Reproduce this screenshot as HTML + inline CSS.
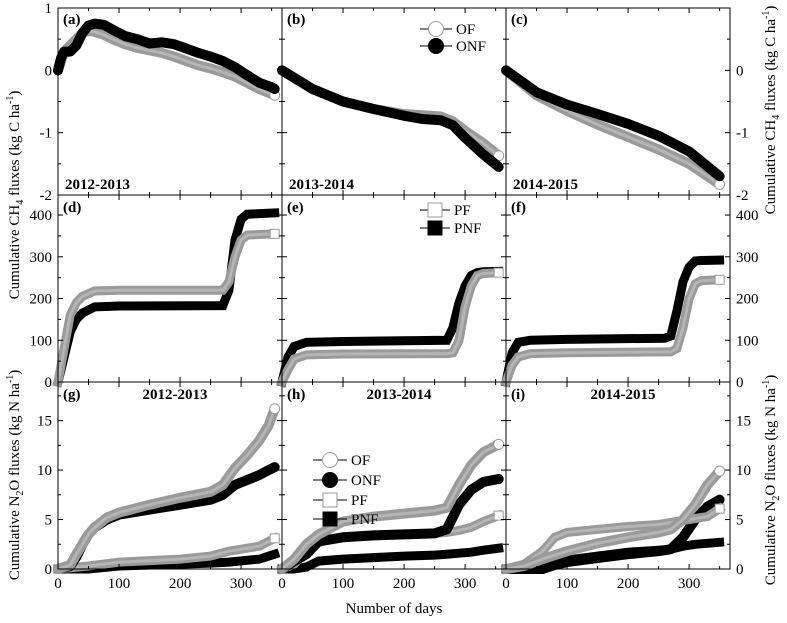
<!DOCTYPE html>
<html><head><meta charset="utf-8"><style>
html,body{margin:0;padding:0;background:#fff}
svg{display:block;font-family:"Liberation Serif","Times New Roman",serif}
svg text{font-family:"Liberation Serif","Times New Roman",serif}
</style></head><body>
<svg id="fig" width="787" height="623" viewBox="0 0 787 623"></svg>
<script>
const daysA=[0,5,10,20,30,40,50,60,75,90,110,130,150,170,190,210,230,250,270,290,310,330,350,355];
const onfA=[0,0.2,0.3,0.3,0.4,0.6,0.72,0.75,0.73,0.65,0.55,0.5,0.43,0.45,0.42,0.35,0.28,0.22,0.15,0.05,-0.08,-0.2,-0.27,-0.3];
const ofA=[0,0.15,0.3,0.4,0.5,0.6,0.63,0.62,0.57,0.5,0.42,0.36,0.32,0.28,0.22,0.15,0.08,0.03,-0.03,-0.1,-0.2,-0.3,-0.38,-0.4];
const daysB=[0,50,100,150,200,230,260,280,300,330,355];
const ofB=[0,-0.3,-0.5,-0.62,-0.7,-0.72,-0.74,-0.82,-0.97,-1.17,-1.37];
const onfB=[0,-0.3,-0.5,-0.62,-0.73,-0.78,-0.8,-0.88,-1.08,-1.35,-1.55];
const daysC=[0,50,100,150,200,250,300,350];
const ofC=[0,-0.4,-0.65,-0.87,-1.07,-1.27,-1.5,-1.83];
const onfC=[0,-0.35,-0.55,-0.7,-0.86,-1.05,-1.3,-1.7];
const daysD=[0,10,20,30,40,60,100,270,280,290,300,310,355];
const pfD=[0,80,160,190,205,218,220,220,240,300,340,352,355];
const pnfD=[0,60,120,150,165,180,182,183,220,340,390,402,405];
const daysE=[0,10,20,40,100,270,280,290,300,310,320,330,355];
const pfE=[0,30,55,65,67,68,70,100,180,230,255,260,262];
const pnfE=[0,60,85,95,97,100,130,190,230,255,262,264,265];
const daysF=[0,10,20,40,100,260,270,280,290,300,310,320,350];
const pfF=[0,40,60,68,70,72,72,80,130,200,235,243,245];
const pnfF=[0,70,95,100,102,105,110,170,240,275,290,291,292];
const daysG=[0,20,30,40,50,60,80,100,150,200,250,270,290,310,330,345,355];
const ofG=[0,0.4,1.5,2.5,3.5,4.2,5.2,5.7,6.5,7.2,7.8,8.5,10.2,11.5,13,14.5,16.2];
const onfG=[0,0.3,1.2,2.5,3.5,4.2,5,5.5,6,6.5,7,7.5,8.5,9,9.5,10,10.3];
const daysG2=[0,50,100,200,250,280,330,355];
const pfG=[0,0.3,0.7,1,1.3,1.8,2.3,3.1];
const pnfG=[0,0,0.3,0.5,0.6,0.7,1,1.5];
const daysH=[0,20,40,60,100,150,200,250,270,290,310,330,355];
const ofH=[0,1,2.5,3.5,4.8,5.3,5.6,5.9,6.2,8.5,10.5,11.8,12.6];
const onfH=[0,0.8,1.5,2.8,3.2,3.4,3.5,3.6,4,6.5,8,8.8,9.1];
const pfH=[0,0.5,1.8,2.7,3.2,3.4,3.5,3.6,3.7,3.9,4.2,4.8,5.4];
const pnfH=[0,0,0.2,0.8,1,1.15,1.3,1.4,1.5,1.6,1.7,1.9,2.1];
const daysI=[0,30,60,80,100,150,200,250,270,290,310,330,350];
const ofI=[0,0.3,1,1.4,1.8,2.6,3.2,3.7,4,5,6.5,8.5,9.9];
const onfI=[0,0,0,0.4,0.7,1.1,1.5,1.8,2,3.2,5,6.3,7];
const pfI=[0,0.5,1.8,3.2,3.7,4,4.3,4.5,4.7,4.9,5.1,5.3,6.1];
const pnfI=[0,0,0.2,0.6,0.9,1.3,1.7,1.9,2,2.3,2.5,2.6,2.7];
const xTicks=[0,100,200,300];
const ch4Ticks=[1,0,-1,-2];
const ch4TicksR=[0,-1,-2];
const yieldTicks=[0,100,200,300,400];
const n2oTicks=[0,5,10,15];

const NS="http://www.w3.org/2000/svg";
const svg=document.getElementById('fig');
const FF='"Liberation Serif","Times New Roman",serif';
function mk(tag,attrs,parent){const e=document.createElementNS(NS,tag);for(const k in attrs)e.setAttribute(k,attrs[k]);(parent||svg).appendChild(e);return e;}
const colX=[58,282,506], W=224;
const rowY=[8,195,382], H=187;
const rowRange=[[-2,1],[0,448],[0,18.9]];
function xs(c,d){return colX[c]+d/367*W;}
function ys(r,v){const [a,b]=rowRange[r];return rowY[r]+H-(v-a)/(b-a)*H;}
const GRAY="#9a9a9a";

function series(c,r,days,vals,kind,name){
  const g=mk('g',{});
  
  
  const pts=days.map((d,i)=>xs(c,d).toFixed(1)+','+ys(r,vals[i]).toFixed(1)).join(' ');
  const gray=(kind==='of'||kind==='pf');
  const col=gray?GRAY:'#000';
  const sq=(kind==='pf'||kind==='pnf');
  mk('polyline',{points:pts,fill:'none',stroke:col,'stroke-width':sq?9:10,'stroke-linejoin':sq?'miter':'round','stroke-linecap':sq?'square':'round'},g);
  if(gray){
    mk('polyline',{points:pts,fill:'none',stroke:'#b5b5b5','stroke-width':3,'stroke-linejoin':'round'},g);
    const lx=xs(c,days[days.length-1]),ly=ys(r,vals[vals.length-1]);
    if(sq) mk('rect',{x:lx-4.5,y:ly-4.5,width:9,height:9,fill:'#fff',stroke:GRAY,'stroke-width':1},g);
    else mk('circle',{cx:lx,cy:ly,r:5,fill:'#fff',stroke:GRAY,'stroke-width':1},g);
  }
}
function text(x,y,s,attrs,name){const t=mk('text',Object.assign({x:x,y:y,'font-size':15,'font-family':FF},attrs||{}));t.textContent=s;return t;}

const letters=['a','b','c','d','e','f','g','h','i'];
series(0,0,daysA,ofA,'of','series-of-a');series(0,0,daysA,onfA,'onf','series-onf-a');
series(1,0,daysB,ofB,'of','series-of-b');series(1,0,daysB,onfB,'onf','series-onf-b');
series(2,0,daysC,ofC,'of','series-of-c');series(2,0,daysC,onfC,'onf','series-onf-c');
series(0,1,daysD,pnfD,'pnf','series-pnf-d');series(0,1,daysD,pfD,'pf','series-pf-d');
series(1,1,daysE,pnfE,'pnf','series-pnf-e');series(1,1,daysE,pfE,'pf','series-pf-e');
series(2,1,daysF,pnfF,'pnf','series-pnf-f');series(2,1,daysF,pfF,'pf','series-pf-f');
series(0,2,daysG2,pnfG,'pnf','series-pnf-g');series(0,2,daysG2,pfG,'pf','series-pf-g');
series(0,2,daysG,onfG,'onf','series-onf-g');series(0,2,daysG,ofG,'of','series-of-g');
series(1,2,daysH,pnfH,'pnf','series-pnf-h');series(1,2,daysH,pfH,'pf','series-pf-h');
series(1,2,daysH,onfH,'onf','series-onf-h');series(1,2,daysH,ofH,'of','series-of-h');
series(2,2,daysI,pnfI,'pnf','series-pnf-i');series(2,2,daysI,onfI,'onf','series-onf-i');
series(2,2,daysI,pfI,'pf','series-pf-i');series(2,2,daysI,ofI,'of','series-of-i');

const tk=mk('g',{stroke:'#000','stroke-width':1});


for(let r=0;r<3;r++)for(let c=0;c<3;c++){
  mk('rect',{x:colX[c],y:rowY[r],width:W,height:H,fill:'none'},tk);
  for(let d=50;d<367;d+=50){const x=xs(c,d),L=(d%100===0)?5:3;
    mk('line',{x1:x,y1:rowY[r]+H,x2:x,y2:rowY[r]+H-L},tk);
    mk('line',{x1:x,y1:rowY[r],x2:x,y2:rowY[r]+L},tk);}
  const [a,b]=rowRange[r];const step=r===0?0.5:(r===1?50:2.5);
  for(let v=a;v<=b+1e-9;v+=step){const y=ys(r,v);const maj=r===0?Math.abs(v-Math.round(v))<1e-6:(r===1?v%100===0:v%5===0);const L=maj?5:3;
    mk('line',{x1:colX[c],y1:y,x2:colX[c]+L,y2:y},tk);
    mk('line',{x1:colX[c]+W,y1:y,x2:colX[c]+W-L,y2:y},tk);}
}
for(let c=0;c<3;c++)xTicks.forEach(d=>text(xs(c,d),588,String(d),{'text-anchor':'middle'},'x-tick-label'));
ch4Ticks.forEach(v=>text(52,ys(0,v)+5,String(v),{'text-anchor':'end'},'y-tick-label-ch4'));
ch4TicksR.forEach(v=>text(736,ys(0,v)+5,String(v),{},'y-tick-label-ch4-right'));
yieldTicks.forEach(v=>{text(52,ys(1,v)+5,String(v),{'text-anchor':'end'},'y-tick-label-yield');text(736,ys(1,v)+5,String(v),{},'y-tick-label-yield-right');});
n2oTicks.forEach(v=>{text(52,ys(2,v)+5,String(v),{'text-anchor':'end'},'y-tick-label-n2o');text(736,ys(2,v)+5,String(v),{},'y-tick-label-n2o-right');});

const plab=[[63,24],[287,24],[511,24],[63,212],[287,212],[511,212],[63,399],[287,399],[511,399]];
plab.forEach((p,i)=>text(p[0],p[1],'('+letters[i]+')',{'font-weight':'bold'},'panel-label-'+letters[i]));
['2012-2013','2013-2014','2014-2015'].forEach((s,c)=>{
  text(colX[c]+7,189,s,{'font-weight':'bold'},'year-label-row1');
  text(colX[c]+W/2+5,399,s,{'font-weight':'bold','text-anchor':'middle'},'year-label-row3');
});
text(394,613,'Number of days',{'text-anchor':'middle'},'x-axis-title');

function vt(x,y,html,name){const t=mk('text',{x:0,y:0,'font-size':15,'font-family':FF,'text-anchor':'middle',transform:`translate(${x},${y}) rotate(-90)`});t.innerHTML=html;}
vt(19,195,'Cumulative CH<tspan font-size="10" dy="4">4</tspan><tspan dy="-4"> fluxes (kg C ha</tspan><tspan font-size="10" dy="-6">-1</tspan><tspan dy="6">)</tspan>','y-axis-title-ch4');
vt(19,475,'Cumulative N<tspan font-size="10" dy="4">2</tspan><tspan dy="-4">O fluxes (kg N ha</tspan><tspan font-size="10" dy="-6">-1</tspan><tspan dy="6">)</tspan>','y-axis-title-n2o');
vt(775,110,'Cumulative CH<tspan font-size="10" dy="4">4</tspan><tspan dy="-4"> fluxes (kg C ha</tspan><tspan font-size="10" dy="-6">-1</tspan><tspan dy="6">)</tspan>','y-axis-title-ch4-right');
vt(775,480,'Cumulative N<tspan font-size="10" dy="4">2</tspan><tspan dy="-4">O fluxes (kg N ha</tspan><tspan font-size="10" dy="-6">-1</tspan><tspan dy="6">)</tspan>','y-axis-title-n2o-right');

function legend(x,y,label,kind,gap){
  const g=mk('g',{});
  
  
  mk('line',{x1:x,y1:y,x2:x+gap,y2:y,stroke:'#000','stroke-width':1},g);
  const cx=x+gap/2, gray=(kind==='of'||kind==='pf'), sq=(kind==='pf'||kind==='pnf');
  if(sq) mk('rect',{x:cx-7,y:y-7,width:14,height:14,fill:gray?'#fff':'#000',stroke:gray?GRAY:'#000'},g);
  else mk('circle',{cx:cx,cy:y,r:7.5,fill:gray?'#fff':'#000',stroke:gray?GRAY:'#000'},g);
  text(x+gap+4,y+5,label,{},'legend-label');
}
legend(420,29,'OF','of',32);legend(420,46,'ONF','onf',32);
legend(420,210,'PF','pf',30);legend(420,228,'PNF','pnf',30);
legend(313,460,'OF','of',34);legend(313,480,'ONF','onf',34);
legend(313,500,'PF','pf',34);legend(313,519,'PNF','pnf',34);
</script>
</body></html>
